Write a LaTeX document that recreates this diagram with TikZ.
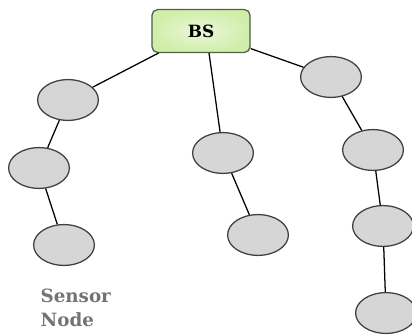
\documentclass[tikz,border=0pt]{standalone}
\usepackage{tikz}
\usepackage{fontspec}
\newfontfamily\labelfont{DejaVu Serif}
\usetikzlibrary{shapes.geometric}
\definecolor{bsgreen}{RGB}{208,238,170}
\definecolor{bsedge}{RGB}{80,95,70}
\tikzstyle{sensor}=[ellipse,draw=black!75,line width=0.9pt,fill=black!16,minimum width=1.52cm,minimum height=1.02cm,inner sep=0pt]
\tikzstyle{station}=[rectangle,rounded corners=4pt,draw=bsedge,line width=0.9pt,inner color=bsgreen!45,outer color=bsgreen,minimum width=2.45cm,minimum height=1.07cm,font=\labelfont\fontsize{12}{14}\selectfont\bfseries]

\begin{document}
\begin{tikzpicture}[x=0.025cm,y=-0.025cm,line width=0.9pt]
    \useasboundingbox (0,0) rectangle (412,334);
    \node[station] (bs) at (201,31) {BS};
    \node[sensor] (l1) at (68,100) {};
    \node[sensor] (l2) at (39,168) {};
    \node[sensor] (l3) at (64,245) {};
    \node[sensor] (m1) at (223,153) {};
    \node[sensor] (m2) at (258,235) {};
    \node[sensor] (r1) at (331,77) {};
    \node[sensor] (r2) at (373,150) {};
    \node[sensor] (r3) at (383,226) {};
    \node[sensor] (r4) at (386,313) {};
    \node[anchor=north west,align=left,text=black!55,font=\labelfont\fontsize{13}{17}\selectfont\bfseries,inner sep=0pt] (lbl) at (40,288) {Sensor\\Node};

    \draw (bs.290) -- (m1);
    \foreach \from/\to in {bs/l1,l1/l2,l2/l3,m1/m2,bs/r1,r1/r2,r2/r3,r3/r4}
    \draw (\from) -- (\to);
\end{tikzpicture}
\end{document}
